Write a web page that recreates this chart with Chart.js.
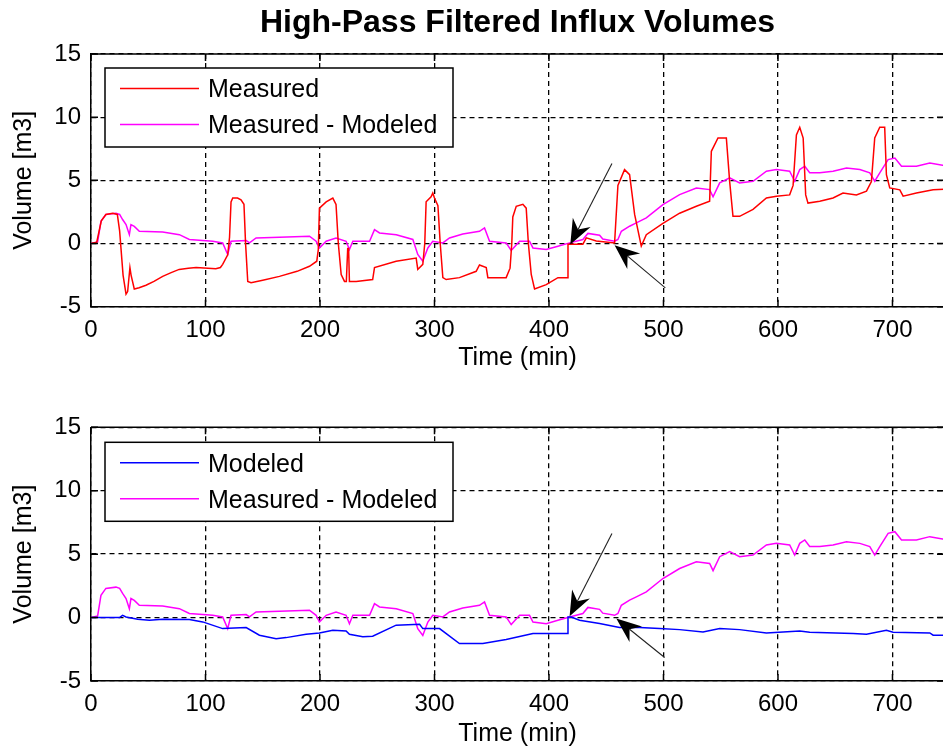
<!DOCTYPE html>
<html><head><meta charset="utf-8">
<script src="https://cdn.jsdelivr.net/npm/chart.js@4.4.0/dist/chart.umd.min.js"></script>
<style>
html,body{margin:0;padding:0;background:#fff;overflow:hidden;width:943px;height:749px;position:relative;}
#c1{position:absolute;left:0;top:0;}
#c2{position:absolute;left:0;top:380px;}
</style></head><body>
<canvas id="c1" width="960" height="380"></canvas>
<canvas id="c2" width="960" height="369"></canvas>
<script>
const chartTitle = 'High-Pass Filtered Influx Volumes';
const xAxisTitle = 'Time (min)';
const yAxisTitle = 'Volume [m3]';
const xTickValues = [0,100,200,300,400,500,600,700];
const xTickLabels = ['0','100','200','300','400','500','600','700'];
const yTickValues = [-5,0,5,10,15];
const yTickLabels = ['-5','0','5','10','15'];
const xRange = [0,745];
const yRange = [-5,15];

const labelMeasured = 'Measured';
const labelModeled = 'Modeled';
const labelResidual = 'Measured - Modeled';

// [time (min), volume (m3)]
const measured = [[0,0],[5,0.1],[9,1.8],[13,2.3],[19,2.4],[23,2.3],[25,1.0],[28,-2.5],[30.6,-4.0],[32,-3.8],[34,-1.9],[35,-2.5],[37.8,-3.6],[42,-3.5],[48,-3.3],[55,-3.0],[62.6,-2.6],[70,-2.3],[77,-2.05],[85,-1.95],[91.8,-1.9],[109,-2.0],[113,-1.9],[115,-1.65],[119.4,-0.9],[121,0.5],[122.3,3.3],[123.8,3.6],[128,3.6],[131,3.45],[133.6,3.1],[135,0],[136.9,-3.0],[139.8,-3.1],[150,-2.9],[164.6,-2.6],[180,-2.2],[190.8,-1.8],[197.2,-1.4],[198.5,-0.5],[199.5,2.8],[205.4,3.3],[211.2,3.6],[214,3.1],[216,0],[218.5,-2.45],[221.4,-3.0],[223,-3.0],[224.2,-0.4],[225,-0.4],[225.7,-3.0],[231.6,-3.0],[246,-2.85],[247.6,-1.9],[266.5,-1.4],[284,-1.15],[285.4,-2.05],[289.8,-1.65],[291.5,0],[292.7,3.3],[297,3.7],[298.5,4.0],[300,3.6],[303,3.0],[305,0],[307.3,-2.7],[310.2,-2.85],[321.8,-2.7],[336.4,-2.2],[339.3,-1.7],[345.2,-1.9],[346.6,-2.7],[362.6,-2.7],[366,-1.95],[367.5,0],[368.4,2.1],[371.4,2.95],[377.2,3.1],[380.1,2.8],[382,0],[384.5,-2.45],[387.4,-3.6],[397.6,-3.25],[407.8,-2.7],[416.5,-2.7],[416.6,-0.05],[429.6,-0.05],[432.6,0.45],[441.3,0.2],[457.3,0.05],[460.2,4.6],[466,5.85],[470.4,5.45],[474.8,2.3],[480.6,-0.2],[485,0.7],[499.5,1.6],[514.1,2.4],[528.7,2.95],[540.3,3.35],[541.8,7.3],[547.6,8.35],[554.9,8.35],[557.8,4.9],[560.7,2.15],[566.5,2.15],[578.2,2.7],[589.9,3.6],[598.6,3.75],[610.2,3.85],[613.2,4.6],[616.1,8.6],[619,9.2],[622,8.35],[624.2,3.85],[626.2,3.2],[636.5,3.35],[648.1,3.6],[656.8,4.0],[668.5,3.85],[677.3,4.15],[681.6,4.9],[684.5,8.35],[688.9,9.2],[693.2,9.2],[694.7,5.45],[697.6,4.4],[706.4,4.25],[709.3,3.75],[720.9,4.0],[735.5,4.25],[748,4.3]];

const residual = [[0,0],[5.8,0.13],[8.7,1.75],[13,2.3],[21.8,2.4],[25,2.3],[27.6,1.9],[30.6,1.5],[33.5,0.7],[34.9,1.5],[37.8,1.35],[42.2,0.97],[62.6,0.92],[77.2,0.7],[85.9,0.32],[106.3,0.18],[115,0.05],[119.4,-0.87],[122.3,0.18],[135.5,0.24],[138.4,0.05],[144.2,0.44],[164.6,0.5],[190.8,0.58],[196.6,0.18],[199.5,-0.35],[205.4,0.18],[214,0.44],[222.8,0.18],[225.7,-0.48],[228.7,0.18],[243.3,0.18],[247.6,1.1],[252,0.84],[266.6,0.7],[281.1,0.32],[285.4,-0.87],[289.8,-1.4],[294.2,-0.35],[298.5,0.18],[307.3,0.05],[313.1,0.44],[324.7,0.76],[339.3,0.97],[343.7,1.23],[348.1,0.18],[362.6,0.05],[367,-0.55],[374.3,0.18],[383,0.18],[386,-0.35],[397.6,-0.48],[407.8,-0.21],[418,0.05],[429.6,0.32],[434,0.8],[444.2,0.65],[447,0.35],[457.3,0.18],[460.2,0.32],[463.2,0.97],[470.4,1.37],[476.3,1.63],[485,2.03],[499.5,3.08],[514.1,3.87],[528.7,4.4],[540.3,4.27],[543.3,3.7],[549.1,4.8],[557.8,5.2],[566.5,4.8],[578.2,4.93],[589.9,5.72],[598.6,5.85],[610.2,5.72],[614.6,4.93],[619,5.85],[623.4,6.12],[627.7,5.6],[636.5,5.6],[648.1,5.72],[659.8,5.98],[671.5,5.85],[680.2,5.6],[684.5,4.93],[688.9,5.6],[696.2,6.64],[702.1,6.77],[707.9,6.12],[720.9,6.12],[732.6,6.38],[748,6.12]];

const modeled = [[0,0],[24.8,0],[27.6,0.18],[30.6,0.05],[40.8,-0.13],[51,-0.21],[62.6,-0.13],[85.9,-0.16],[97.6,-0.34],[115,-0.87],[135.5,-0.79],[147.1,-1.39],[161.7,-1.66],[170.4,-1.58],[187.9,-1.32],[199.5,-1.21],[211.2,-1.0],[222.8,-1.05],[225.7,-1.32],[237.4,-1.52],[246,-1.47],[266.5,-0.6],[287,-0.53],[289.8,-0.87],[304.4,-0.87],[321.8,-2.05],[342.2,-2.05],[362.6,-1.73],[374.3,-1.5],[386,-1.26],[416.5,-1.26],[416.6,0.05],[419.4,0.05],[426.7,-0.21],[444.2,-0.47],[461.6,-0.79],[479.1,-0.79],[496.6,-0.87],[514.1,-0.95],[534.5,-1.13],[549.1,-0.87],[566.5,-0.95],[589.9,-1.21],[619,-1.05],[627.7,-1.16],[665.6,-1.26],[677.3,-1.32],[694.7,-1.0],[700.5,-1.16],[732.6,-1.21],[735.5,-1.39],[748,-1.39]];

// annotation arrows: [tailX, tailY, tipX, tipY] in data units
const arrowsTop = [[455,6.33,418.6,-0.08],[501.6,-3.51,457.3,-0.13]];
const arrowsBottom = [[455,6.62,418,0.1],[501,-3.15,458.8,-0.08]];

const FONT = "'Liberation Sans', Arial, Helvetica, sans-serif";
Chart.defaults.color = '#000';
Chart.defaults.font.family = FONT;

function toXY(arr){ return arr.map(p => ({x:p[0], y:p[1]})); }

function drawArrow(ctx, x1, y1, x2, y2){
  const ang = Math.atan2(y2-y1, x2-x1);
  const c = Math.cos(ang), s = Math.sin(ang);
  const L = 25, W = 10, back = 17;
  ctx.save();
  ctx.setLineDash([]);
  ctx.strokeStyle = '#222';
  ctx.lineWidth = 1.1;
  ctx.beginPath();
  ctx.moveTo(x1, y1);
  ctx.lineTo(x2 - c*back, y2 - s*back);
  ctx.stroke();
  const bx = x2 - c*L, by = y2 - s*L;
  const nx = -s, ny = c;
  ctx.fillStyle = '#000';
  ctx.beginPath();
  ctx.moveTo(x2, y2);
  ctx.lineTo(bx + nx*W, by + ny*W);
  ctx.lineTo(x2 - c*back, y2 - s*back);
  ctx.lineTo(bx - nx*W, by - ny*W);
  ctx.closePath();
  ctx.fill();
  ctx.restore();
}

const decorPlugin = {
  id: 'decor',
  afterDatasetsDraw(chart, args, opts) {
    const {ctx, chartArea: a, scales: {x, y}} = chart;
    ctx.save();
    ctx.setLineDash([]);
    ctx.strokeStyle = '#000';
    ctx.lineWidth = 1.5;
    const tl = 7;
    ctx.beginPath();
    x.ticks.forEach(t => {
      const px = x.getPixelForValue(t.value);
      ctx.moveTo(px, a.bottom); ctx.lineTo(px, a.bottom - tl);
      ctx.moveTo(px, a.top); ctx.lineTo(px, a.top + tl);
    });
    y.ticks.forEach(t => {
      const py = y.getPixelForValue(t.value);
      ctx.moveTo(a.left, py); ctx.lineTo(a.left + tl, py);
      ctx.moveTo(a.right, py); ctx.lineTo(a.right - tl, py);
    });
    ctx.stroke();
    ctx.beginPath();
    ctx.moveTo(a.left, a.top); ctx.lineTo(a.right, a.top); ctx.lineTo(a.right, a.bottom);
    ctx.stroke();
    (opts.arrows || []).forEach(ar => {
      drawArrow(ctx, x.getPixelForValue(ar[0]), y.getPixelForValue(ar[1]),
                     x.getPixelForValue(ar[2]), y.getPixelForValue(ar[3]));
    });
    const bx = a.left + 14, by = a.top + opts.legendTop, bw = 348, bh = 79;
    ctx.fillStyle = '#fff';
    ctx.fillRect(bx, by, bw, bh);
    ctx.strokeStyle = '#000';
    ctx.lineWidth = 1.5;
    ctx.strokeRect(bx, by, bw, bh);
    const rows = [20.5, 56.5];
    chart.data.datasets.forEach((ds, i) => {
      const ry = by + rows[i];
      ctx.strokeStyle = ds.borderColor;
      ctx.lineWidth = 1.5;
      ctx.beginPath();
      ctx.moveTo(bx + 15, ry); ctx.lineTo(bx + 94, ry);
      ctx.stroke();
      ctx.fillStyle = '#000';
      ctx.font = '25px ' + FONT;
      ctx.textAlign = 'left';
      ctx.textBaseline = 'middle';
      ctx.fillText(ds.label, bx + 103, ry + 2);
    });
    ctx.restore();
  }
};

function scalesCfg(xHeight){
  return {
    x: {
      type: 'linear', min: xRange[0], max: xRange[1],
      afterBuildTicks: s => { s.ticks = xTickValues.map(v => ({value: v})); },
      afterFit: s => { s.height = xHeight; },
      ticks: { autoSkip: false, maxRotation: 0, padding: 9, font: {size: 24},
               callback: v => xTickLabels[xTickValues.indexOf(v)] },
      grid: { color: '#000', lineWidth: 1.3, drawTicks: false },
      border: { display: true, color: '#000', width: 1.5, dash: [5,4] },
      title: { display: true, text: xAxisTitle, font: {size: 25}, padding: {top: 0, bottom: 0} }
    },
    y: {
      type: 'linear', min: yRange[0], max: yRange[1],
      afterBuildTicks: s => { s.ticks = yTickValues.map(v => ({value: v})); },
      afterFit: s => { s.width = 91; },
      ticks: { padding: 10, font: {size: 24},
               callback: v => yTickLabels[yTickValues.indexOf(v)] },
      grid: { color: '#000', lineWidth: 1.3, drawTicks: false },
      border: { display: true, color: '#000', width: 1.5, dash: [5,4] },
      title: { display: true, text: yAxisTitle, font: {size: 25}, padding: {top: 9, bottom: 0} }
    }
  };
}

function lineDs(label, data, color){
  return { label, data: toXY(data), borderColor: color, backgroundColor: color,
           borderWidth: 1.5, pointRadius: 0, tension: 0, fill: false };
}

new Chart(document.getElementById('c1'), {
  type: 'line',
  data: { datasets: [ lineDs(labelMeasured, measured, '#ff0000'), lineDs(labelResidual, residual, '#ff00ff') ] },
  options: {
    responsive: false, animation: false, devicePixelRatio: 1,
    layout: { padding: {left: 0, right: 16, top: 0, bottom: 7} },
    scales: scalesCfg(66.3),
    plugins: {
      legend: { display: false },
      tooltip: { enabled: false },
      title: { display: true, text: chartTitle, fullSize: false, color: '#000',
               font: {size: 32, weight: 'bold'}, padding: {top: 4, bottom: 11.6} },
      decor: { arrows: arrowsTop, legendTop: 14 }
    }
  },
  plugins: [decorPlugin]
});

new Chart(document.getElementById('c2'), {
  type: 'line',
  data: { datasets: [ lineDs(labelModeled, modeled, '#0000ff'), lineDs(labelResidual, residual, '#ff00ff') ] },
  options: {
    responsive: false, animation: false, devicePixelRatio: 1,
    layout: { padding: {left: 0, right: 16, top: 47.3, bottom: 0} },
    scales: scalesCfg(68),
    plugins: {
      legend: { display: false },
      tooltip: { enabled: false },
      title: { display: false },
      decor: { arrows: arrowsBottom, legendTop: 15 }
    }
  },
  plugins: [decorPlugin]
});
</script>
</body></html>
